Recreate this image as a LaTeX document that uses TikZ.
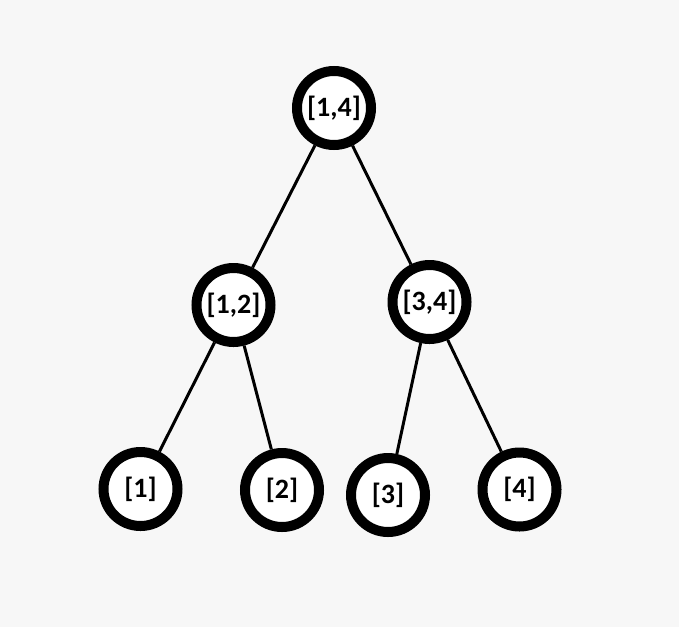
\documentclass[tikz,border=0pt]{standalone}
\usepackage{fontspec}
\newfontfamily\nodefont{Carlito}
\definecolor{bg}{HTML}{F7F7F7}
\begin{document}
\begin{tikzpicture}[x=1pt,y=-1pt,
  tnode/.style={circle,draw=black,fill=white,line width=10pt,minimum size=74pt,inner sep=0pt,font=\nodefont\bfseries\fontsize{28}{32}\selectfont},
  edge/.style={line width=3pt}]
\fill[bg] (0,0) rectangle (679,627);
\useasboundingbox (0,0) rectangle (679,627);
\node[tnode] (r) at (334,108) {[1,4]};
\node[tnode] (a) at (233.5,305) {[1,2]};
\node[tnode] (b) at (429.5,302) {[3,4]};
\node[tnode] (l1) at (140.5,489) {[1]};
\node[tnode] (l2) at (282,490) {[2]};
\node[tnode] (l3) at (388,495) {[3]};
\node[tnode] (l4) at (519.5,489.5) {[4]};
\draw[edge] (r) -- (a);
\draw[edge] (r) -- (b);
\draw[edge] (a) -- (l1);
\draw[edge] (a) -- (l2);
\draw[edge] (b) -- (l3);
\draw[edge] (b) -- (l4);
\end{tikzpicture}
\end{document}
